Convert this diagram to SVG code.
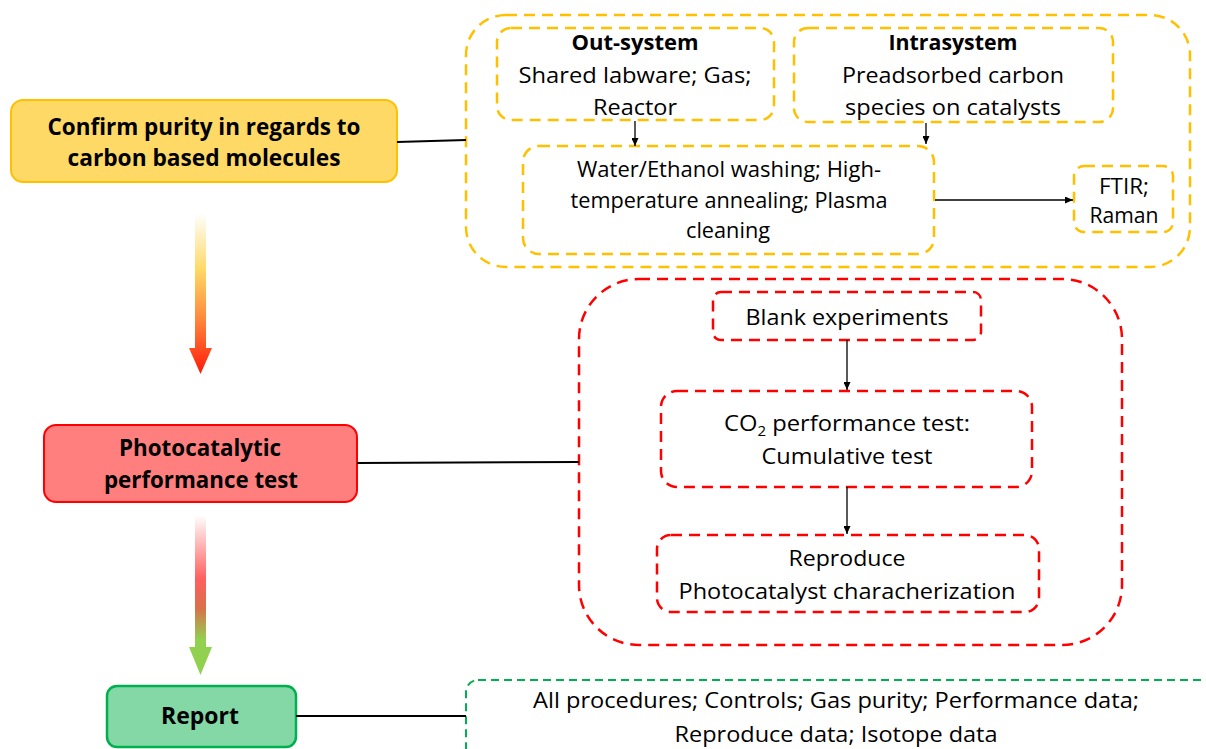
<svg xmlns="http://www.w3.org/2000/svg" width="1206" height="749" viewBox="0 0 1206 749">
  <style>
    text { font-family: "Open Sans", "Lato", "Liberation Sans", sans-serif; fill: #000; text-anchor: middle; }
    .t { font-size: 22px; }
    .h { font-size: 22px; font-weight: bold; }
    .nb { font-size: 24px; font-weight: bold; }
    .box-y { fill: none; stroke: #FFC000; stroke-width: 2.5; stroke-dasharray: 11 7; }
    .box-r { fill: none; stroke: #FF0000; stroke-width: 2.5; stroke-dasharray: 11 7; }
    .box-g { fill: none; stroke: #00B050; stroke-width: 2; stroke-dasharray: 8 5; }
    .link { stroke: #000; stroke-width: 2; fill: none; }
    .arr { stroke: #000; stroke-width: 1.3; fill: none; marker-end: url(#head); }
  </style>
  <defs>
    <marker id="head" markerUnits="userSpaceOnUse" markerWidth="8" markerHeight="7" refX="8" refY="3.5" orient="auto">
      <path d="M0,0 L8,3.5 L0,7 Z" fill="#000"/>
    </marker>
    <linearGradient id="flow1" gradientUnits="userSpaceOnUse" x1="0" y1="213" x2="0" y2="374">
      <stop offset="0" stop-color="#FFFFFF"/>
      <stop offset="0.35" stop-color="#FFD966"/>
      <stop offset="0.65" stop-color="#FF8A3D"/>
      <stop offset="1" stop-color="#FF1A0A"/>
    </linearGradient>
    <linearGradient id="flow2" gradientUnits="userSpaceOnUse" x1="0" y1="515" x2="0" y2="675">
      <stop offset="0" stop-color="#FFFFFF"/>
      <stop offset="0.4" stop-color="#FF5F5F"/>
      <stop offset="0.58" stop-color="#D9704A"/>
      <stop offset="0.78" stop-color="#92D050"/>
      <stop offset="1" stop-color="#92D050"/>
    </linearGradient>
  </defs>

  <!-- main stage nodes -->
  <g id="node-purity">
    <rect x="11" y="100" width="386" height="82" rx="12" fill="#FFD966" stroke="#FFC000" stroke-width="2"/>
    <text class="nb" x="204" y="135" textLength="313" lengthAdjust="spacingAndGlyphs">Confirm purity in regards to</text>
    <text class="nb" x="204" y="166" textLength="273" lengthAdjust="spacingAndGlyphs">carbon based molecules</text>
  </g>
  <g id="node-performance">
    <rect x="44" y="425" width="313" height="77" rx="12" fill="#FF7F7F" stroke="#FF0000" stroke-width="2"/>
    <text class="nb" x="200" y="456" textLength="162" lengthAdjust="spacingAndGlyphs">Photocatalytic</text>
    <text class="nb" x="201" y="488" textLength="194" lengthAdjust="spacingAndGlyphs">performance test</text>
  </g>
  <g id="node-report">
    <rect x="107" y="686" width="189" height="61" rx="10" fill="#84D8A6" stroke="#00B050" stroke-width="2.5"/>
    <text class="nb" x="200" y="724" textLength="78" lengthAdjust="spacingAndGlyphs">Report</text>
  </g>

  <!-- carbon purity group -->
  <g id="group-purity">
    <rect class="box-y" x="466" y="15" width="724" height="252" rx="40"/>
  </g>
  <g id="node-outsystem">
    <rect class="box-y" x="497" y="28" width="277" height="92" rx="14"/>
    <text class="h" x="635" y="50" textLength="127" lengthAdjust="spacingAndGlyphs">Out-system</text>
    <text class="t" x="635" y="83" textLength="233" lengthAdjust="spacingAndGlyphs">Shared labware; Gas;</text>
    <text class="t" x="635" y="115" textLength="84" lengthAdjust="spacingAndGlyphs">Reactor</text>
  </g>
  <g id="node-intrasystem">
    <rect class="box-y" x="794" y="28" width="319" height="94" rx="14"/>
    <text class="h" x="953" y="50" textLength="129" lengthAdjust="spacingAndGlyphs">Intrasystem</text>
    <text class="t" x="953" y="83" textLength="222" lengthAdjust="spacingAndGlyphs">Preadsorbed carbon</text>
    <text class="t" x="953" y="115" textLength="216" lengthAdjust="spacingAndGlyphs">species on catalysts</text>
  </g>
  <g id="node-cleaning">
    <rect class="box-y" x="523" y="146" width="411" height="108" rx="16"/>
    <text class="t" x="729" y="177" textLength="304" lengthAdjust="spacingAndGlyphs">Water/Ethanol washing; High-</text>
    <text class="t" x="729" y="208" textLength="317" lengthAdjust="spacingAndGlyphs">temperature annealing; Plasma</text>
    <text class="t" x="728" y="238" textLength="84" lengthAdjust="spacingAndGlyphs">cleaning</text>
  </g>
  <g id="node-ftir">
    <rect class="box-y" x="1074" y="166" width="99" height="66" rx="10"/>
    <text class="t" x="1124" y="194" textLength="50" lengthAdjust="spacingAndGlyphs">FTIR;</text>
    <text class="t" x="1124" y="223" textLength="69" lengthAdjust="spacingAndGlyphs">Raman</text>
  </g>

  <!-- performance test group -->
  <g id="group-performance">
    <rect class="box-r" x="579" y="279" width="543" height="366" rx="60"/>
  </g>
  <g id="node-blank">
    <rect class="box-r" x="713" y="292" width="268" height="48" rx="8"/>
    <text class="t" x="847" y="325" textLength="203" lengthAdjust="spacingAndGlyphs">Blank experiments</text>
  </g>
  <g id="node-co2">
    <rect class="box-r" x="661" y="391" width="371" height="96" rx="16"/>
    <text class="t" x="847" y="431" textLength="246" lengthAdjust="spacingAndGlyphs">CO<tspan font-size="14" dy="5">2</tspan><tspan dy="-5"> performance test:</tspan></text>
    <text class="t" x="847" y="464" textLength="171" lengthAdjust="spacingAndGlyphs">Cumulative test</text>
  </g>
  <g id="node-reproduce">
    <rect class="box-r" x="657" y="535" width="382" height="77" rx="14"/>
    <text class="t" x="847" y="566" textLength="117" lengthAdjust="spacingAndGlyphs">Reproduce</text>
    <text class="t" x="847" y="599" textLength="337" lengthAdjust="spacingAndGlyphs">Photocatalyst characherization</text>
  </g>

  <!-- report group -->
  <g id="node-report-detail">
    <rect class="box-g" x="466" y="680" width="800" height="120" rx="12"/>
    <text class="t" x="836" y="708" textLength="606" lengthAdjust="spacingAndGlyphs">All procedures; Controls; Gas purity; Performance data;</text>
    <text class="t" x="836" y="742" textLength="323" lengthAdjust="spacingAndGlyphs">Reproduce data; Isotope data</text>
  </g>

  <!-- connectors -->
  <g id="connectors">
    <path d="M195,213 H206 V348 H212 L200.5,374 L189,348 H195 Z" fill="url(#flow1)"/>
    <path d="M195,515 H206 V647 H212 L200.5,675 L189,647 H195 Z" fill="url(#flow2)"/>
    <path class="link" d="M397,142 L466,140"/>
    <path class="link" d="M357,463 L579,462"/>
    <path class="link" d="M296,716 L466,716"/>
    <path class="arr" d="M635,121 V146"/>
    <path class="arr" d="M926,123 V144"/>
    <path class="arr" d="M935,200 H1073"/>
    <path class="arr" d="M847,340 V390"/>
    <path class="arr" d="M847,487 V534"/>
  </g>
</svg>
